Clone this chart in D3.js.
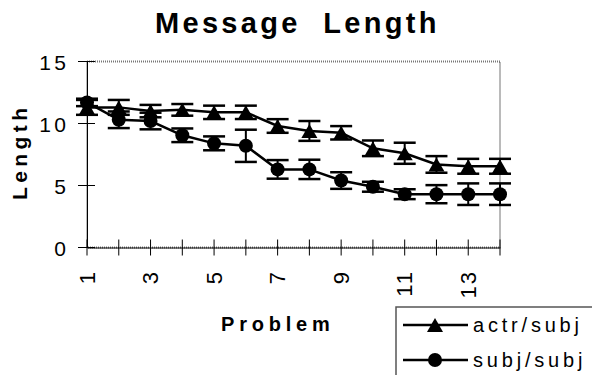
<!DOCTYPE html>
<html>
<head>
<meta charset="utf-8">
<script src="https://cdn.jsdelivr.net/npm/d3@7"></script>
<style>
  body { margin: 0; background: #fff; }
  svg { display: block; font-family: Arial, "Liberation Sans", sans-serif; }
</style>
</head>
<body>
<svg id="chart" width="592" height="375"></svg>
<script>
const problems = [1, 2, 3, 4, 5, 6, 7, 8, 9, 10, 11, 12, 13, 14];
const actrSubj = [11.3, 11.3, 11.0, 11.1, 10.9, 10.9, 9.8, 9.4, 9.25, 8.0, 7.6, 6.7, 6.55, 6.55];
const actrErr = [0.6, 0.6, 0.5, 0.47, 0.54, 0.54, 0.55, 0.8, 0.54, 0.63, 0.85, 0.67, 0.6, 0.6];
const subjSubj = [11.7, 10.3, 10.2, 9.05, 8.4, 8.2, 6.3, 6.3, 5.4, 4.9, 4.3, 4.3, 4.3, 4.3];
const subjErr = [0.3, 0.67, 0.67, 0.55, 0.56, 1.3, 0.75, 0.78, 0.67, 0.4, 0.4, 0.73, 0.87, 0.87];
const yTicks = [0, 5, 10, 15];
const xLabels = [1, 3, 5, 7, 9, 11, 13];

const series = [
  { name: 'actr/subj', values: actrSubj, err: actrErr, marker: 'triangle' },
  { name: 'subj/subj', values: subjSubj, err: subjErr, marker: 'circle' }
];

const svg = d3.select('#chart');
const plot = { left: 87, right: 500, top: 61.5, bottom: 247.5 };

const x = d3.scalePoint().domain(problems).range([plot.left, plot.right]);
const y = d3.scaleLinear().domain([0, 15]).range([plot.bottom, plot.top]);

// title
svg.append('text')
  .attr('x', 155).attr('y', 33)
  .attr('font-size', 29).attr('font-weight', 'bold')
  .attr('letter-spacing', 3.3)
  .attr('xml:space', 'preserve')
  .style('white-space', 'pre')
  .text('Message  Length');

// plot frame (dotted grey)
svg.append('rect')
  .attr('x', plot.left).attr('y', plot.top)
  .attr('width', plot.right - plot.left).attr('height', plot.bottom - plot.top)
  .attr('fill', 'none').attr('stroke', '#777')
  .attr('stroke-width', 2).attr('stroke-dasharray', '1,1');

// y axis
const yAxis = svg.append('g').attr('transform', `translate(${plot.left},0)`)
  .call(d3.axisLeft(y).tickValues(yTicks).tickSize(0).tickPadding(0).tickFormat(''));
yAxis.select('.domain').attr('stroke', '#000').attr('stroke-width', 1);
yTicks.forEach(t => {
  svg.append('line')
    .attr('x1', plot.left - 9).attr('x2', plot.left + 8)
    .attr('y1', y(t)).attr('y2', y(t))
    .attr('stroke', '#000').attr('stroke-width', 1);
  svg.append('text')
    .attr('x', 69.5).attr('y', y(t) + 1.5)
    .attr('dy', '0.35em')
    .attr('text-anchor', 'end')
    .attr('font-size', 21).attr('letter-spacing', 3.5)
    .text(t);
});

// x axis
const xAxis = svg.append('g').attr('transform', `translate(0,${plot.bottom})`)
  .call(d3.axisBottom(x).tickSize(0).tickFormat(''));
xAxis.select('.domain').attr('stroke', '#000').attr('stroke-width', 1);
problems.forEach(p => {
  svg.append('line')
    .attr('x1', x(p)).attr('x2', x(p))
    .attr('y1', plot.bottom - 8).attr('y2', plot.bottom + 8)
    .attr('stroke', '#000').attr('stroke-width', 1);
});
xLabels.forEach(p => {
  svg.append('text')
    .attr('transform', `translate(${x(p)},${272}) rotate(-90)`)
    .attr('dy', '0.35em')
    .attr('text-anchor', 'end')
    .attr('font-size', 22).attr('letter-spacing', 2)
    .attr('dx', 2)
    .text(p);
});

// axis titles
svg.append('text')
  .attr('x', 221).attr('y', 331)
  .attr('font-size', 20).attr('font-weight', 'bold')
  .attr('letter-spacing', 4.8)
  .text('Problem');

svg.append('text')
  .attr('transform', 'translate(27,200) rotate(-90)')
  .attr('font-size', 21).attr('font-weight', 'bold')
  .attr('letter-spacing', 4.4)
  .text('Length');

// markers
function drawMarker(g, type, cx, cy) {
  if (type === 'circle') {
    g.append('circle').attr('cx', cx).attr('cy', cy).attr('r', 7).attr('fill', '#000');
  } else {
    const w = 16, h = 14;
    g.append('path')
      .attr('d', `M${cx},${cy - h / 2}L${cx + w / 2},${cy + h / 2}L${cx - w / 2},${cy + h / 2}Z`)
      .attr('fill', '#000');
  }
}

const line = d3.line().x((d, i) => x(problems[i])).y(d => y(d));

series.forEach(s => {
  const g = svg.append('g');
  // error bars
  s.values.forEach((v, i) => {
    const cx = x(problems[i]);
    const e = s.err[i];
    g.append('line')
      .attr('x1', cx).attr('x2', cx)
      .attr('y1', y(v + e)).attr('y2', y(v - e))
      .attr('stroke', '#000').attr('stroke-width', 2);
    [v + e, v - e].forEach(cv => {
      g.append('line')
        .attr('x1', cx - 11).attr('x2', cx + 11)
        .attr('y1', y(cv)).attr('y2', y(cv))
        .attr('stroke', '#000').attr('stroke-width', 2.5);
    });
  });
  g.append('path')
    .datum(s.values)
    .attr('d', line)
    .attr('fill', 'none').attr('stroke', '#000').attr('stroke-width', 2.5);
  s.values.forEach((v, i) => drawMarker(g, s.marker, x(problems[i]), y(v)));
});

// legend
const legend = svg.append('g');
legend.append('rect')
  .attr('x', 396).attr('y', 307)
  .attr('width', 220).attr('height', 100)
  .attr('fill', '#fff').attr('stroke', '#555').attr('stroke-width', 1.5);
series.forEach((s, i) => {
  const ly = 325 + i * 35;
  legend.append('line')
    .attr('x1', 403).attr('x2', 468)
    .attr('y1', ly).attr('y2', ly)
    .attr('stroke', '#000').attr('stroke-width', 2.5);
  drawMarker(legend, s.marker, 435, ly);
  legend.append('text')
    .attr('x', 473).attr('y', ly + 7)
    .attr('font-size', 20).attr('letter-spacing', 3.8)
    .text(s.name);
});
</script>
</body>
</html>
